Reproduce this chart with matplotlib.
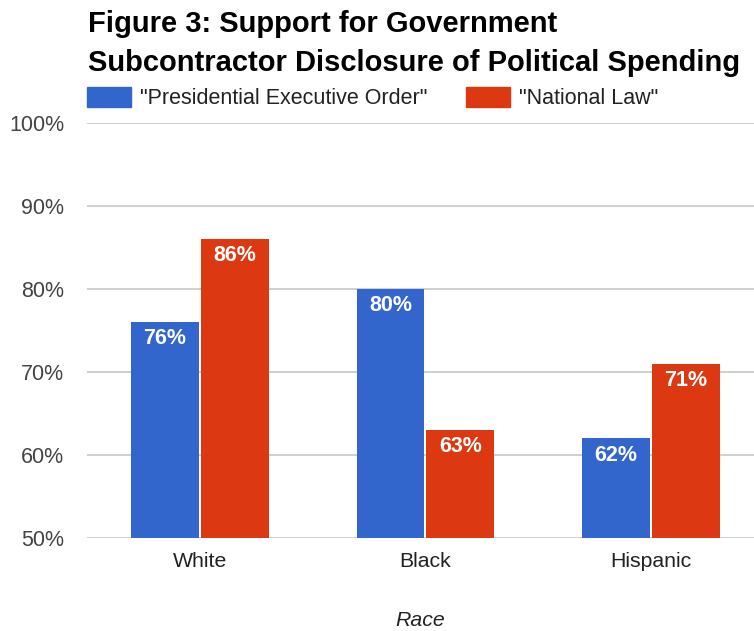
import matplotlib.pyplot as plt
import numpy as np
from matplotlib.patches import Patch

# data
groups = ["White", "Black", "Hispanic"]
exec_order = [76, 80, 62]
national_law = [86, 63, 71]
series_names = ['"Presidential Executive Order"', '"National Law"']
yticks = [50, 60, 70, 80, 90, 100]

BLUE = "#3366CC"
RED = "#DC3912"
plt.rcParams["font.family"] = ["Liberation Sans", "DejaVu Sans"]

fig = plt.figure(figsize=(7.54, 6.31), dpi=100)
ax = fig.add_axes([87 / 754, 1 - 538 / 631, 1 - 87 / 754, (538 - 123) / 631])

x = np.arange(len(groups))
w = 0.3
off = 0.155
b1 = ax.bar(x - off, exec_order, w, bottom=0, color=BLUE, zorder=3)
b2 = ax.bar(x + off, national_law, w, bottom=0, color=RED, zorder=3)

# value labels inside the top of each bar
for bars, vals in ((b1, exec_order), (b2, national_law)):
    for rect, v in zip(bars, vals):
        ax.annotate(f"{v}%", xy=(rect.get_x() + rect.get_width() / 2, v),
                    xytext=(0, -4.5), textcoords="offset points",
                    ha="center", va="top", color="white",
                    fontsize=15.5, fontweight="bold", zorder=4)

ax.set_ylim(50, 100)
ax.set_xlim(-0.5, 2.457)
ax.set_yticks(yticks)
ax.set_yticklabels([f"{t}%" for t in yticks], fontsize=15.5, color="#444444")
ax.set_xticks(x)
ax.set_xticklabels(groups, fontsize=15.3, color="#222222")
ax.tick_params(axis="both", length=0)
ax.tick_params(axis="y", pad=16.5)
ax.tick_params(axis="x", pad=10)
ax.grid(axis="y", color="#cccccc", linewidth=1.3, zorder=0)
for s in ax.spines.values():
    s.set_visible(False)
ax.set_xlabel("Race", fontsize=15.3, style="italic", color="#222222", labelpad=29)

fig.text(88 / 754, 1 - 10 / 631,
         "Figure 3: Support for Government\nSubcontractor Disclosure of Political Spending",
         ha="left", va="top", fontsize=21, fontweight="bold", linespacing=1.5)

handles = [Patch(color=BLUE), Patch(color=RED)]
fig.legend(handles, series_names, loc="upper left", ncol=2,
           bbox_to_anchor=(87 / 754, 1 - 87 / 631), frameon=False,
           borderpad=0, borderaxespad=0,
           fontsize=15.5, handlelength=2.05, handleheight=1.02,
           handletextpad=0.42, columnspacing=1.77, labelcolor="#222222")

fig.savefig("out.png", dpi=100)
